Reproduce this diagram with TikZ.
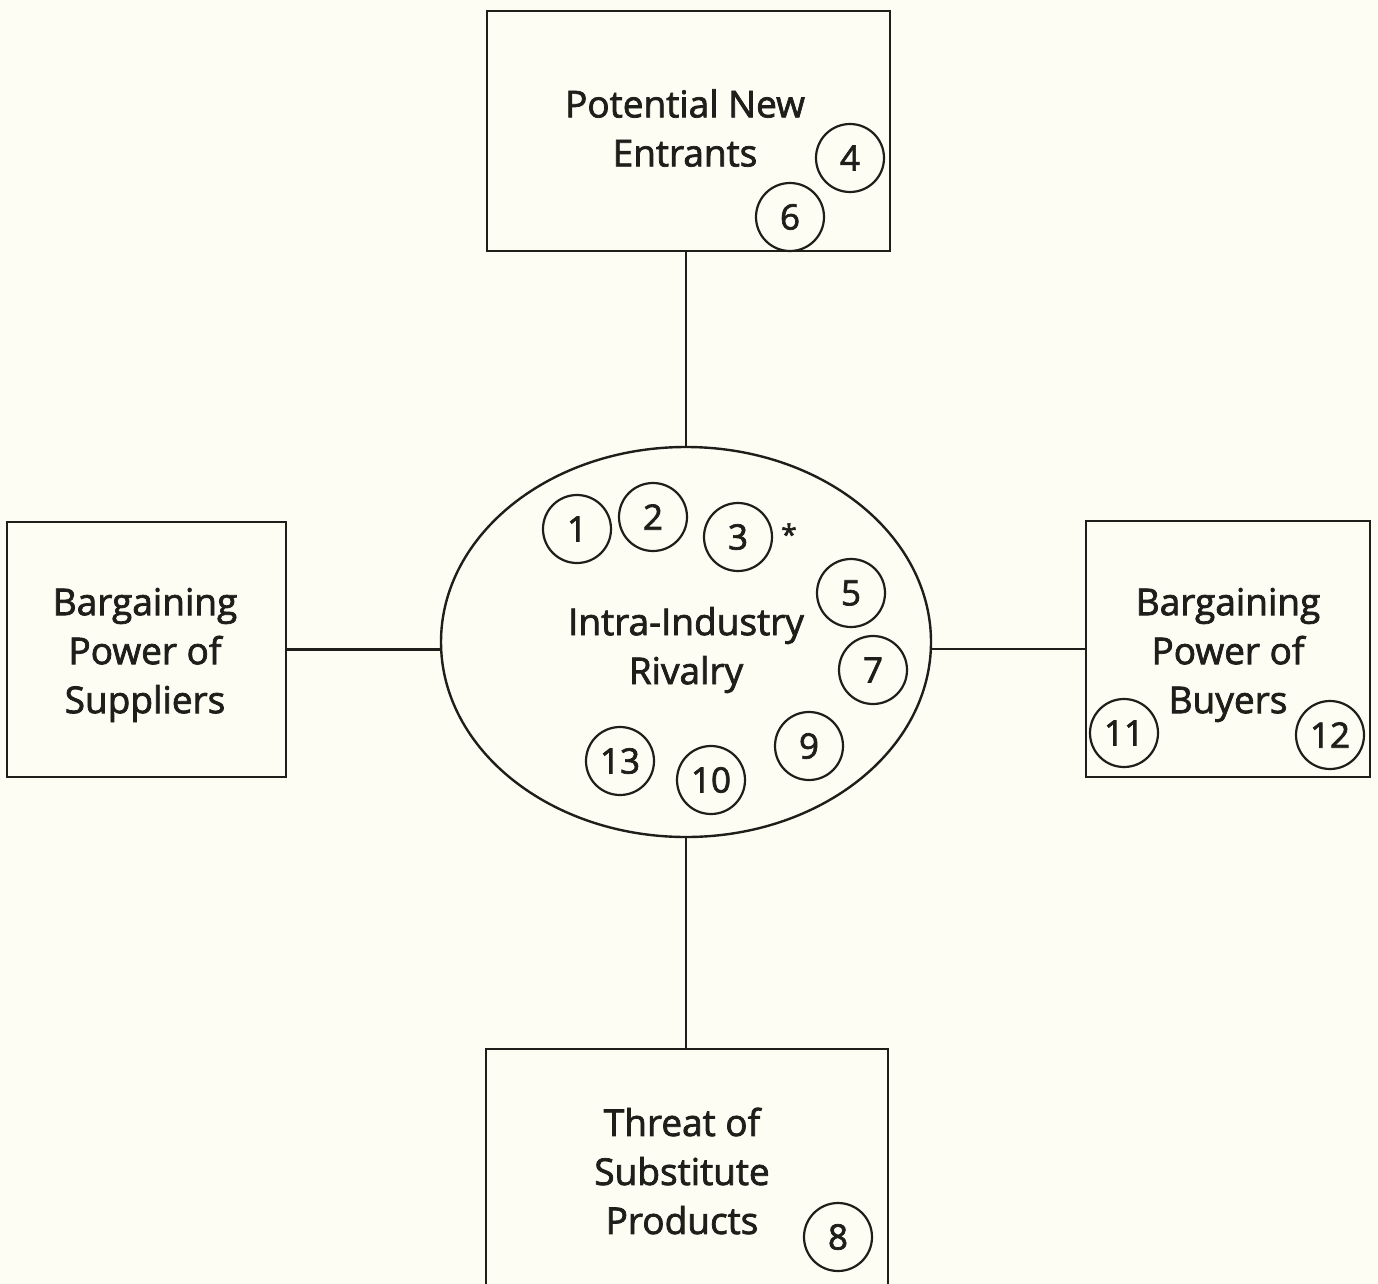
\documentclass[tikz,border=0pt]{standalone}
\usepackage{fontspec}
\setmainfont{Open Sans}[FakeBold=2]
\usetikzlibrary{shapes.geometric}
\definecolor{bg}{RGB}{253,253,243}
\definecolor{ink}{RGB}{30,30,26}
\begin{document}
\begin{tikzpicture}[x=1pt,y=-1pt,
  forcebox/.style={draw=ink, line width=2.4pt, rectangle, inner sep=0pt},
  lbl/.style={align=center, text=ink, font=\fontsize{37}{49}\selectfont, inner sep=0pt},
  num/.style={draw=ink, line width=2.2pt, circle, minimum size=68pt, inner sep=0pt,
    text=ink, font=\fontsize{35}{35}\selectfont},
  conn/.style={draw=ink, line width=2.4pt}]
\fill[bg] (0,0) rectangle (1378,1284);
\useasboundingbox (0,0) rectangle (1378,1284);
\clip (0,0) rectangle (1378,1284);

% forces
\node[forcebox, minimum width=403pt, minimum height=240pt] (ent) at (688.5,131) {};
\node[lbl] (entt) at (685,128) {Potential New\\Entrants};
\node[forcebox, minimum width=279pt, minimum height=255pt] (sup) at (146.5,649.5) {};
\node[lbl] (supt) at (145,655) {Bargaining\\Power of\\Suppliers};
\node[forcebox, minimum width=284pt, minimum height=256pt] (buy) at (1228,649) {};
\node[lbl] (buyt) at (1228,655) {Bargaining\\Power of\\Buyers};
\node[forcebox, minimum width=402pt, minimum height=320pt, anchor=north] (sub) at (687,1048) {};
\node[lbl] (subt) at (682,1171) {Threat of\\Substitute\\Products};

% rivalry
\node[draw=ink, line width=2.4pt, ellipse, minimum width=490pt, minimum height=390pt,
  inner sep=0pt] (riv) at (686,642) {};
\node[lbl] (rivt) at (686,650) {Intra-Industry\\Rivalry};

% connectors
\draw[conn] (ent.south -| riv.north) -- (riv.north);
\draw[conn] (riv.south) -- (riv.south |- sub.north);
\draw[conn] (sup.east) -- (sup.east -| riv.west);
\draw[conn] (buy.west) -- (buy.west -| riv.east);

% numbered circles
\node[num] (n1) at (577,529) {1};
\node[num] (n2) at (653,517) {2};
\node[num] (n3) at (738,537) {3};
\node[text=ink, inner sep=0pt, font=\fontsize{28}{28}\selectfont] (star) at (789,534) {*};
\node[num] (n4) at (850,158) {4};
\node[num] (n5) at (851,593) {5};
\node[num] (n6) at (790,217) {6};
\node[num] (n7) at (873,670) {7};
\node[num] (n8) at (838,1237) {8};
\node[num] (n9) at (809,746) {9};
\node[num] (n10) at (711,780) {10};
\node[num] (n11) at (1124,733) {11};
\node[num] (n12) at (1330,735) {12};
\node[num] (n13) at (620,761) {13};
\end{tikzpicture}
\end{document}
